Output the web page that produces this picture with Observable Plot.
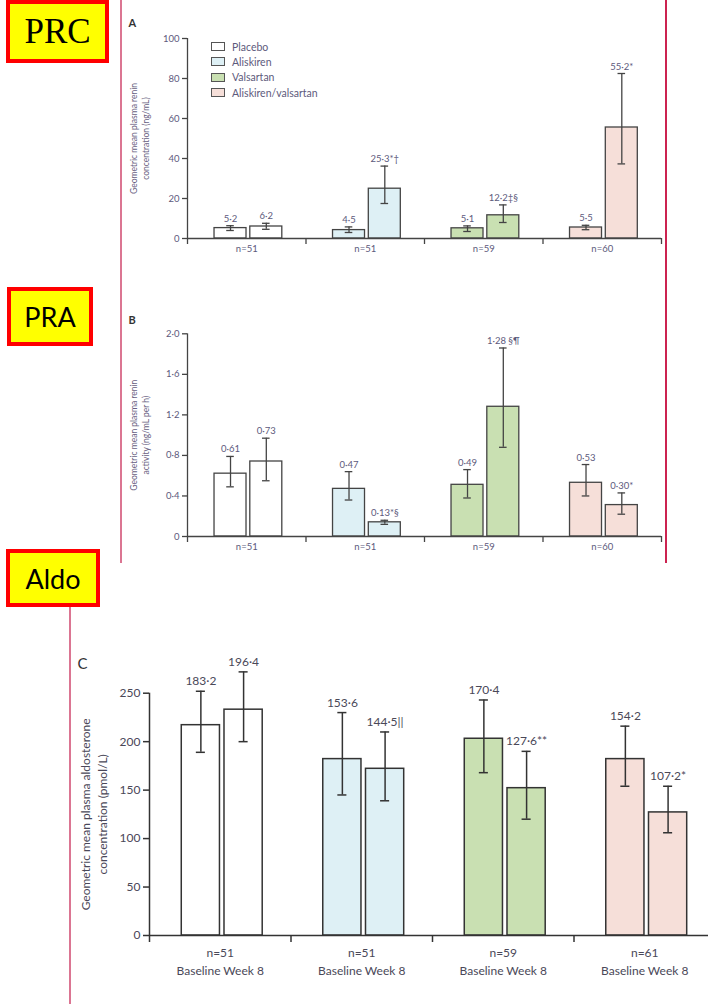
<!DOCTYPE html>
<html>
<head>
<meta charset="utf-8">
<script src="https://cdn.jsdelivr.net/npm/d3@7"></script>
<script src="https://cdn.jsdelivr.net/npm/@observablehq/plot@0.6"></script>
<style>
html, body { margin: 0; padding: 0; width: 708px; height: 1004px; overflow: hidden; background: #fff; }
#root { position: relative; width: 708px; height: 1004px; overflow: hidden; }
.slot { position: absolute; left: 0; }
.tag { position: absolute; box-sizing: border-box; border: 4px solid #ff0000; background: #ffff00;
       display: flex; align-items: center; justify-content: center; color: #000; line-height: 1; }
.vline { position: absolute; width: 2px; }
.legend { position: absolute; left: 211px; top: 39px; font-family: Lato, sans-serif; font-size: 10.5px; color: #5d5a7c; }
.legend .row { display: flex; align-items: center; height: 15.3px; }
.legend .sw { width: 12px; height: 7px; border: 1.2px solid #555; margin-right: 7px; }
</style>
</head>
<body>
<div id="root"></div>
<script>
// ---------- data ----------
const groups = ["Placebo", "Aliskiren", "Valsartan", "Aliskiren/valsartan"];
const timepoints = ["Baseline", "Week 8"];
const groupFills = ["#ffffff", "#def0f5", "#c9e0b2", "#f6dfd9"];

// Panel A: plasma renin concentration (ng/mL), order: group x [Baseline, Week 8]
const prcValues = [5.2, 6.0, 4.2, 24.9, 5.1, 11.6, 5.5, 55.5];
const prcLow    = [4.0, 4.6, 3.0, 17.5, 3.5, 8.0, 4.4, 37.3];
const prcHigh   = [6.4, 7.6, 5.8, 36.2, 6.3, 16.8, 6.6, 82.5];
const prcLabels = ["5·2", "6·2", "4·5", "25·3*†", "5·1", "12·2‡§", "5·5", "55·2*"];
const prcN      = ["n=51", "n=51", "n=59", "n=60"];
const prcTicks  = [0, 20, 40, 60, 80, 100];

// Panel B: plasma renin activity (ng/mL per h)
const praValues = [0.62, 0.74, 0.47, 0.14, 0.51, 1.28, 0.53, 0.31];
const praLow    = [0.49, 0.55, 0.36, 0.12, 0.38, 0.88, 0.40, 0.22];
const praHigh   = [0.79, 0.97, 0.64, 0.16, 0.66, 1.86, 0.71, 0.43];
const praLabels = ["0·61", "0·73", "0·47", "0·13*§", "0·49", "1·28 §¶", "0·53", "0·30*"];
const praN      = ["n=51", "n=51", "n=59", "n=60"];
const praTicks  = [0, 0.4, 0.8, 1.2, 1.6, 2.0];

// Panel C: plasma aldosterone concentration (pmol/L)
const aldoValues = [217, 233, 182, 172, 203, 152, 182, 127];
const aldoLow    = [189, 200, 145, 139, 168, 120, 154, 106];
const aldoHigh   = [252, 272, 230, 210, 243, 190, 216, 154];
const aldoLabels = ["183·2", "196·4", "153·6", "144·5||", "170·4", "127·6**", "154·2", "107·2*"];
const aldoN      = ["n=51", "n=51", "n=59", "n=61"];
const aldoSub    = "Baseline Week 8";
const aldoTicks  = [0, 50, 100, 150, 200, 250];

// ---------- layout helpers ----------
const barCenters = [0.363, 0.665]; // within a group (group width = 1)
const barHalf = 0.135;
const capHalf = 0.032;
const root = document.getElementById("root");

function dotDecimal(d) {
  return d === 0 ? "0" : d3.format(".1f")(d).replace(".", "·");
}

function panel(cfg) {
  const rows = cfg.values.map((v, i) => ({
    g: Math.floor(i / timepoints.length),
    t: i % timepoints.length,
    grp: groups[Math.floor(i / timepoints.length)],
    v, lo: cfg.lo[i], hi: cfg.hi[i], label: cfg.labels[i]
  }));
  const cx = d => d.g + barCenters[d.t];
  const ink = cfg.ink;
  const txt = cfg.txt;
  return Plot.plot({
    width: cfg.width,
    height: cfg.height,
    marginLeft: cfg.ml, marginRight: cfg.mr, marginTop: cfg.mt, marginBottom: cfg.mb,
    style: `font-family: Lato, sans-serif; max-width: none; overflow: visible; background: transparent;`,
    x: {domain: [0, groups.length]},
    y: {domain: [0, cfg.ticks[cfg.ticks.length - 1]]},
    color: {domain: groups, range: groupFills},
    marks: [
      Plot.rectY(rows, {x1: d => cx(d) - barHalf, x2: d => cx(d) + barHalf, y1: 0, y2: "v",
        fill: "grp", stroke: ink, strokeWidth: cfg.sw}),
      Plot.ruleX(rows, {x: cx, y1: "lo", y2: "hi", stroke: ink, strokeWidth: cfg.sw}),
      Plot.ruleY(rows, {y: "lo", x1: d => cx(d) - capHalf, x2: d => cx(d) + capHalf, stroke: ink, strokeWidth: cfg.sw}),
      Plot.ruleY(rows, {y: "hi", x1: d => cx(d) - capHalf, x2: d => cx(d) + capHalf, stroke: ink, strokeWidth: cfg.sw}),
      Plot.text(rows, {x: cx, y: "hi", text: "label", dy: cfg.labelDy, lineAnchor: "bottom",
        fill: txt, fontSize: cfg.fs}),
      Plot.ruleY([0], {stroke: ink, strokeWidth: cfg.sw}),
      Plot.ruleX([0], {y1: 0, y2: cfg.ticks[cfg.ticks.length - 1], stroke: ink, strokeWidth: cfg.sw}),
      Plot.axisY({ticks: cfg.ticks, tickFormat: cfg.fmt, tickSize: cfg.tickSize, tickPadding: 3,
        label: null, stroke: ink, fill: txt, fontSize: cfg.fs, strokeWidth: cfg.sw}),
      Plot.axisX({ticks: d3.range(groups.length + 1), tickSize: cfg.tickSize + 1, tickFormat: () => "",
        label: null, stroke: ink, strokeWidth: cfg.sw}),
      Plot.axisX({ticks: groups.map((_, i) => i + 0.5), tickSize: 0, tickPadding: cfg.nPad,
        tickFormat: v => cfg.nLabels[Math.floor(v)] + (cfg.sub ? "\n" + cfg.sub : ""),
        label: null, fill: txt, fontSize: cfg.fs, lineHeight: cfg.nLine || 1}),
      Plot.text([cfg.title], {frameAnchor: "left", rotate: -90, dx: cfg.titleDx, fill: cfg.titleColor,
        fontSize: cfg.titleFs, lineHeight: cfg.titleLh, textAnchor: "middle"}),
      Plot.text([cfg.letter], {frameAnchor: "top-left", dx: cfg.letterDx, dy: cfg.letterDy, textAnchor: "start",
        fill: "#333", fontSize: cfg.letterFs, fontWeight: cfg.letterWeight})
    ]
  });
}

function place(node, top) {
  const d = document.createElement("div");
  d.className = "slot";
  d.style.top = top + "px";
  d.appendChild(node);
  root.appendChild(d);
}

function tag(text, left, top, w, h, font, size) {
  const d = document.createElement("div");
  d.className = "tag";
  Object.assign(d.style, {left: left + "px", top: top + "px", width: w + "px", height: h + "px",
    fontFamily: font, fontSize: size + "px"});
  d.textContent = text;
  root.appendChild(d);
}

function vline(x, top, h, color) {
  const d = document.createElement("div");
  d.className = "vline";
  Object.assign(d.style, {left: x + "px", top: top + "px", height: h + "px", background: color});
  root.appendChild(d);
}

// frame lines of the original figure
vline(120, 0, 563, "#db7592");
vline(665, 0, 563, "#cc2350");
vline(69, 607, 397, "#db7592");

const smallCfg = {
  width: 708, ml: 187, mr: 47, mb: 25, ink: "#444", txt: "#5d5a7c", sw: 1.3, fs: 9.5,
  tickSize: 5, labelDy: -4, nPad: 7, titleDx: -48, titleColor: "#6a5f82", titleFs: 8.5, titleLh: 1.4,
  letterDx: -59, letterFs: 11, letterWeight: "bold"
};

// Panel A
place(panel({...smallCfg,
  height: 263, mt: 38,
  values: prcValues, lo: prcLow, hi: prcHigh, labels: prcLabels, nLabels: prcN,
  ticks: prcTicks, fmt: d3.format("d"),
  title: "Geometric mean plasma renin\nconcentration (ng/mL)",
  letter: "A", letterDy: -19
}), 0);

// Panel B
place(panel({...smallCfg,
  height: 271, mt: 43.3,
  values: praValues, lo: praLow, hi: praHigh, labels: praLabels, nLabels: praN,
  ticks: praTicks, fmt: dotDecimal,
  title: "Geometric mean plasma renin\nactivity (ng/mL per h)",
  letter: "B", letterDy: -18
}), 290);

// Panel C
place(panel({
  width: 716, height: 355, ml: 149, mr: 1, mt: 62.7, mb: 50,
  ink: "#333", txt: "#4a4858", sw: 1.5, fs: 12, tickSize: 6, labelDy: -6, nPad: 8, nLine: 1.55,
  titleDx: -56.5, titleColor: "#4a4858", titleFs: 12, titleLh: 1.4,
  letterDx: -72, letterDy: -35, letterFs: 15, letterWeight: "normal",
  values: aldoValues, lo: aldoLow, hi: aldoHigh, labels: aldoLabels, nLabels: aldoN, sub: aldoSub,
  ticks: aldoTicks, fmt: d3.format("d"),
  title: "Geometric mean plasma aldosterone\nconcentration (pmol/L)",
  letter: "C"
}), 630);

// Legend for panel A
const legend = document.createElement("div");
legend.className = "legend";
groups.forEach((g, i) => {
  const row = document.createElement("div");
  row.className = "row";
  const sw = document.createElement("span");
  sw.className = "sw";
  sw.style.background = groupFills[i];
  const lab = document.createElement("span");
  lab.textContent = g;
  row.appendChild(sw);
  row.appendChild(lab);
  legend.appendChild(row);
});
root.appendChild(legend);

// Section tags
tag("PRC", 6, 0, 103, 63, "'Liberation Serif', 'Times New Roman', serif", 35);
tag("PRA", 7, 287, 86, 59, "Lato, sans-serif", 27);
tag("Aldo", 6, 549, 94, 58, "Lato, sans-serif", 27);
</script>
</body>
</html>
